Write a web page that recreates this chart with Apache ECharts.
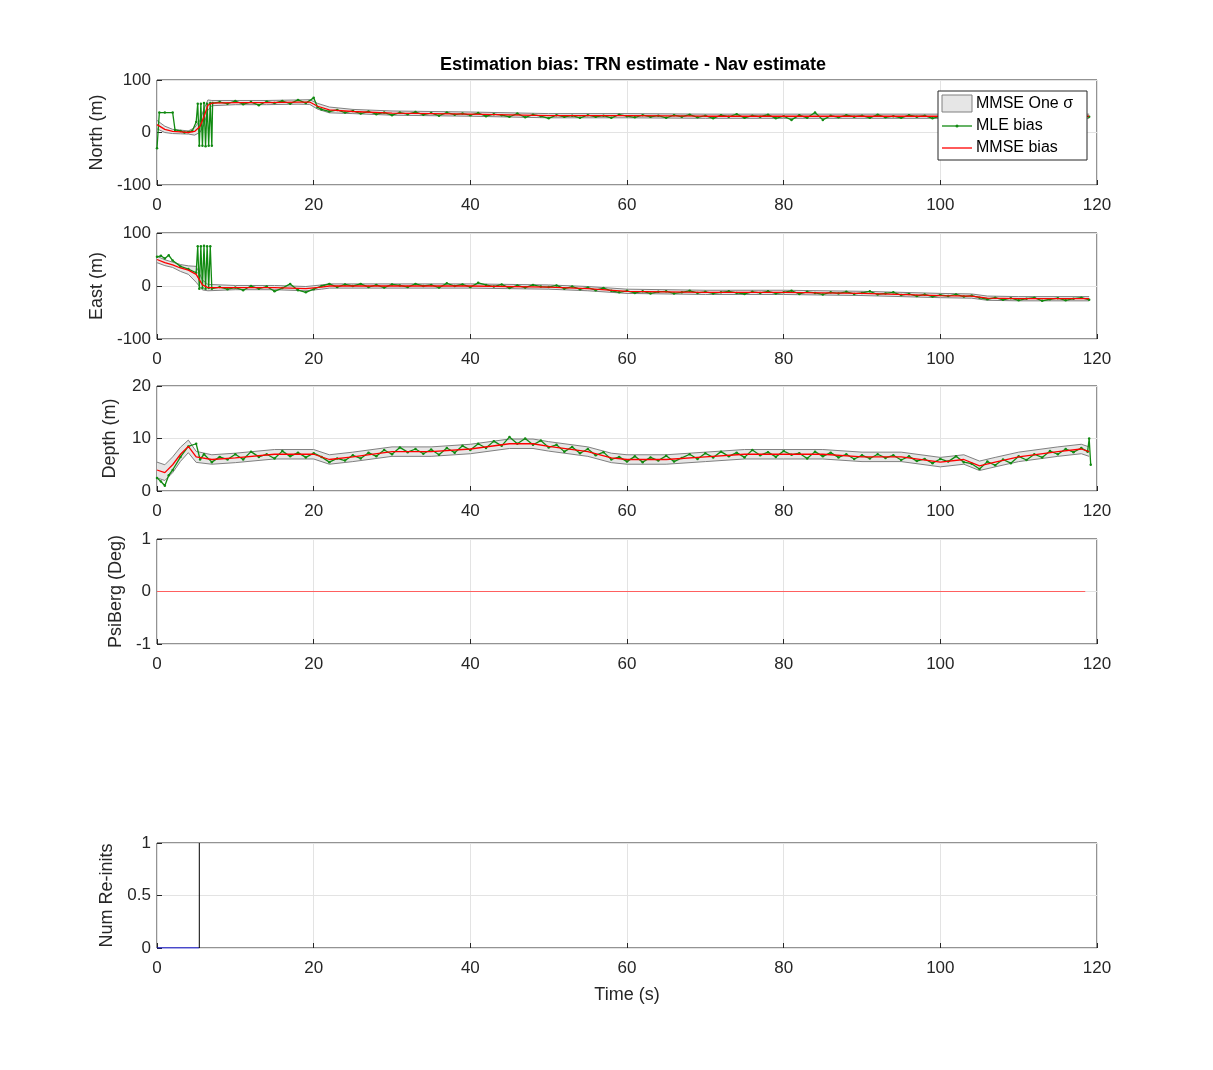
<!DOCTYPE html>
<html><head><meta charset="utf-8">
<script src="https://cdn.jsdelivr.net/npm/echarts@6/dist/echarts.min.js"></script>
<style>html,body{margin:0;background:#fff}#c{width:1213px;height:1070px}</style>
</head><body><div id="c"></div>
<script>
// ---- data ----
const xTicks = [0,20,40,60,80,100,120];
// MMSE estimates [t, value]
const northMMSE = [[0,15],[1,6],[2,2],[3,1],[4,0],[4.8,2],[5.5,12],[6,30],[6.5,52],[7,56],[10,57],[14,57],[18,58],[19.5,58],[20.5,50],[22,43],[25,40],[30,37],[40,35],[50,32],[60,32],[70,31],[80,31],[90,31],[100,31],[110,30],[119,31]];
const northSig = [[0,8],[1,6],[2,4],[4,3],[5,8],[6,15],[7,5],[10,4],[19,4],[21,6],[25,4],[119,4]];
const northMLE = [[0,-30],[0.3,38],[1,38],[2,38],[2.3,5],[3,3],[3.5,0],[4,1],[4.5,3],[5,20],[5.2,55],[5.4,-25],[5.6,55],[5.8,-25],[6,56],[6.2,-26],[6.4,55],[6.6,-25],[6.8,56],[7,-25],[7.1,56],[8,58],[9,55],[10,60],[11,54],[12,58],[13,52],[14,59],[15,56],[16,60],[17,55],[18,62],[19,56],[20,66],[20.5,48],[21,44],[22,40],[23,43],[24,38],[25,41],[26,36],[27,40],[28,35],[29,38],[30,33],[31,38],[32,35],[33,39],[34,34],[35,37],[36,32],[37,38],[38,34],[39,36],[40,33],[41,37],[42,31],[43,35],[44,33],[45,30],[46,36],[47,29],[48,34],[49,31],[50,27],[51,33],[52,30],[53,32],[54,28],[55,33],[56,30],[57,32],[58,28],[59,34],[60,31],[61,29],[62,33],[63,30],[64,32],[65,28],[66,33],[67,30],[68,34],[69,29],[70,32],[71,27],[72,33],[73,30],[74,35],[75,28],[76,32],[77,30],[78,34],[79,27],[80,31],[81,24],[82,33],[83,28],[84,38],[85,24],[86,32],[87,29],[88,33],[89,30],[90,32],[91,28],[92,34],[93,29],[94,31],[95,28],[96,33],[97,30],[98,32],[99,27],[100,31],[101,29],[102,34],[103,30],[104,32],[105,28],[106,33],[107,30],[108,31],[109,28],[110,30],[111,27],[112,31],[113,29],[114,32],[115,28],[116,30],[117,29],[118,31],[119,30]];

const eastMMSE = [[0,50],[1,44],[2,40],[3,34],[4,30],[5,22],[5.8,2],[6.5,-3],[10,-3],[15,-3],[19,-5],[21,-2],[22,0],[30,0],[40,0],[50,-2],[55,-5],[60,-10],[70,-12],[80,-12],[90,-14],[100,-18],[104,-19],[106,-23],[110,-24],[119,-24]];
const eastSig = [[0,6],[2,5],[4,8],[5,15],[6,8],[7,4],[119,4]];
const eastMLE = [[0,55],[0.5,57],[1,52],[1.5,58],[2,48],[3,37],[4,32],[5,25],[5.2,75],[5.4,-5],[5.6,75],[5.8,-4],[6,76],[6.2,-5],[6.4,75],[6.6,-4],[6.8,75],[7,-5],[8,-2],[9,-6],[10,-3],[11,-8],[12,0],[13,-5],[14,-1],[15,-10],[16,-4],[17,4],[18,-8],[19,-12],[20,-6],[21,0],[22,4],[23,-2],[24,3],[25,0],[26,4],[27,-2],[28,2],[29,-3],[30,3],[31,1],[32,-2],[33,4],[34,0],[35,2],[36,-3],[37,5],[38,0],[39,3],[40,-2],[41,6],[42,2],[43,-1],[44,3],[45,-4],[46,1],[47,-3],[48,2],[49,-1],[50,-2],[51,1],[52,-5],[53,-1],[54,-6],[55,-3],[56,-8],[57,-4],[58,-9],[59,-12],[60,-9],[61,-13],[62,-10],[63,-14],[64,-11],[65,-10],[66,-14],[67,-12],[68,-9],[69,-13],[70,-11],[71,-14],[72,-12],[73,-10],[74,-13],[75,-15],[76,-11],[77,-13],[78,-10],[79,-14],[80,-12],[81,-9],[82,-15],[83,-11],[84,-13],[85,-16],[86,-12],[87,-14],[88,-11],[89,-15],[90,-13],[91,-10],[92,-16],[93,-14],[94,-12],[95,-17],[96,-15],[97,-19],[98,-16],[99,-20],[100,-17],[101,-19],[102,-16],[103,-20],[104,-18],[105,-22],[106,-25],[107,-22],[108,-26],[109,-23],[110,-27],[111,-24],[112,-22],[113,-28],[114,-25],[115,-23],[116,-27],[117,-24],[118,-22],[119,-26]];

const depthMMSE = [[0,4],[1,3.5],[2,5],[3,7],[4,8.5],[5,6.5],[7,6],[10,6.3],[15,7],[20,7],[22,6],[25,6.5],[30,7.5],[35,7.5],[40,8],[45,9],[48,9],[50,8.5],[55,7.5],[58,6.3],[60,6],[65,6],[70,6.5],[75,7],[80,7],[85,7],[90,6.5],[95,6.5],[100,5.5],[103,6],[105,4.8],[107,5.5],[110,6.5],[115,7.5],[118,8],[119,7.5]];
const depthSig = [[0,1.5],[2,1.5],[4,1.2],[6,0.9],[119,0.9]];
const depthMLE = [[0,2.5],[0.5,1.8],[1,1],[1.5,3],[2,4],[3,6.5],[4,8.5],[5,9],[5.5,6],[6,7],[7,5.5],[8,6.5],[9,6],[10,7],[11,6],[12,7.5],[13,6.5],[14,7],[15,6.2],[16,7.6],[17,6.6],[18,7.3],[19,6.4],[20,7.2],[21,6.5],[22,5.5],[23,6.2],[24,5.8],[25,6.8],[26,6.2],[27,7.3],[28,6.6],[29,7.8],[30,7],[31,8.3],[32,7.4],[33,8],[34,7.1],[35,7.9],[36,6.9],[37,8.2],[38,7.3],[39,8.6],[40,7.8],[41,9],[42,8.2],[43,9.5],[44,8.6],[45,10.3],[46,9],[47,10],[48,8.8],[49,9.6],[50,8.3],[51,8.8],[52,7.5],[53,8.4],[54,7.2],[55,8],[56,6.8],[57,7.4],[58,6],[59,6.5],[60,5.6],[61,6.6],[62,5.5],[63,6.4],[64,5.8],[65,6.7],[66,5.6],[67,6.3],[68,7],[69,6.1],[70,7.2],[71,6.4],[72,7.5],[73,6.6],[74,7.3],[75,6.4],[76,7.8],[77,6.8],[78,7.4],[79,6.5],[80,7.6],[81,6.9],[82,7.2],[83,6.2],[84,7.5],[85,6.6],[86,7.3],[87,6.4],[88,7],[89,6.1],[90,6.8],[91,6.2],[92,7],[93,6.3],[94,6.8],[95,5.9],[96,6.6],[97,5.7],[98,6.1],[99,5.3],[100,6.1],[101,5.6],[102,6.6],[103,5.5],[104,5.2],[105,4.2],[106,5.6],[107,4.9],[108,6],[109,5.3],[110,6.6],[111,5.9],[112,7],[113,6.4],[114,7.6],[115,7],[116,8],[117,7.4],[118,8.2],[118.8,7.5],[119,10],[119.2,5]];

const psiLine = [[0,0],[118.5,0]];
const reinitBlue = [[0,0],[5.4,0]];
const reinitBlack = [[5.4,0],[5.4,1]];

// ---- build ----
const panels = [
 {top:80, h:105, min:-100, max:100, interval:100, name:'North (m)', mmse:northMMSE, sig:northSig, mle:northMLE},
 {top:233, h:106, min:-100, max:100, interval:100, name:'East (m)', mmse:eastMMSE, sig:eastSig, mle:eastMLE},
 {top:386, h:105, min:0, max:20, interval:10, name:'Depth (m)', mmse:depthMMSE, sig:depthSig, mle:depthMLE},
 {top:539, h:105, min:-1, max:1, interval:1, name:'PsiBerg (Deg)'},
 {top:843, h:105, min:0, max:1, interval:0.5, name:'Num Re-inits'}
];
function sigAt(sig,t){for(let i=1;i<sig.length;i++){if(t<=sig[i][0]){const a=sig[i-1],b=sig[i];return a[1]+(b[1]-a[1])*(t-a[0])/(b[0]-a[0]);}}return sig[sig.length-1][1];}
const F='Liberation Sans, Arial, sans-serif';
const grid=[],xAxis=[],yAxis=[],series=[];
panels.forEach((p,i)=>{
 grid.push({left:157,width:940,top:p.top,height:p.h,show:true,borderColor:'#262626',borderWidth:1,backgroundColor:'#fff'});
 xAxis.push({gridIndex:i,type:'value',min:0,max:120,interval:20,
  axisLine:{show:false,onZero:false},axisTick:{inside:true,length:5,lineStyle:{color:'#262626'}},
  axisLabel:{fontSize:17,color:'#262626',fontFamily:F,margin:12},
  splitLine:{show:true,lineStyle:{color:'#e3e3e3'}},
  name:i===4?'Time (s)':'',nameLocation:'middle',nameGap:38,nameTextStyle:{fontSize:18,color:'#262626',fontFamily:F}});
 yAxis.push({gridIndex:i,type:'value',min:p.min,max:p.max,interval:p.interval,
  axisLine:{show:false,onZero:false},axisTick:{inside:true,length:5,lineStyle:{color:'#262626'}},
  axisLabel:{fontSize:17,color:'#262626',fontFamily:F,margin:6},
  splitLine:{show:true,lineStyle:{color:'#e3e3e3'}},
  name:p.name,nameLocation:'middle',nameGap:i===4||i===3?32:38,nameTextStyle:{fontSize:18,color:'#262626',fontFamily:F}});
 if(p.mmse){
  const lo=p.mmse.map(d=>[d[0],d[1]-sigAt(p.sig,d[0])]);
  const hi=p.mmse.map(d=>[d[0],d[1]+sigAt(p.sig,d[0])]);
  series.push({type:'custom',xAxisIndex:i,yAxisIndex:i,data:[[0,0]],z:1,silent:true,
   renderItem:(params,api)=>{
     const pts=hi.map(d=>api.coord(d)).concat(lo.slice().reverse().map(d=>api.coord(d)));
     return {type:'polygon',shape:{points:pts},style:{fill:'#e6e6e6',stroke:null}};
   }});
  series.push({type:'line',xAxisIndex:i,yAxisIndex:i,data:lo,symbol:'none',lineStyle:{color:'#808080',width:1},z:2});
  series.push({type:'line',xAxisIndex:i,yAxisIndex:i,data:hi,symbol:'none',lineStyle:{color:'#808080',width:1},z:2});
  series.push({type:'line',xAxisIndex:i,yAxisIndex:i,data:p.mle,symbol:'circle',symbolSize:2.5,itemStyle:{color:'#118a11'},lineStyle:{color:'#118a11',width:1.3},z:3});
  series.push({type:'line',xAxisIndex:i,yAxisIndex:i,data:p.mmse,symbol:'none',lineStyle:{color:'#ff0000',width:1.3},z:4});
 }
});
series.push({type:'line',xAxisIndex:3,yAxisIndex:3,data:psiLine,symbol:'none',lineStyle:{color:'#ff6060',width:1.2},z:5});
series.push({type:'line',xAxisIndex:4,yAxisIndex:4,data:reinitBlue,symbol:'none',lineStyle:{color:'#0000ff',width:1.2},z:5});
series.push({type:'line',xAxisIndex:4,yAxisIndex:4,data:reinitBlack,symbol:'none',lineStyle:{color:'#000',width:1},z:5});

const chart=echarts.init(document.getElementById('c'));
chart.setOption({
 animation:false,
 title:{text:'Estimation bias: TRN estimate - Nav estimate',left:628,top:51,textAlign:'center',textStyle:{fontSize:18,fontWeight:'bold',color:'#000',fontFamily:F}},
 grid,xAxis,yAxis,series,
 graphic:[
  {type:'rect',shape:{x:938,y:91,width:149,height:69},style:{fill:'#fff',stroke:'#262626',lineWidth:1},z:100},
  {type:'rect',shape:{x:942,y:95,width:30,height:17},style:{fill:'#e6e6e6',stroke:'#808080',lineWidth:1},z:101},
  {type:'text',x:976,y:104,style:{text:'MMSE One σ',fontSize:16,fill:'#000',fontFamily:F,verticalAlign:'middle'},z:101},
  {type:'line',shape:{x1:942,y1:126,x2:972,y2:126},style:{stroke:'#118a11',lineWidth:1.3},z:101},
  {type:'circle',shape:{cx:957,cy:126,r:1.5},style:{fill:'#118a11'},z:101},
  {type:'text',x:976,y:126,style:{text:'MLE bias',fontSize:16,fill:'#000',fontFamily:F,verticalAlign:'middle'},z:101},
  {type:'line',shape:{x1:942,y1:148,x2:972,y2:148},style:{stroke:'#ff0000',lineWidth:1.3},z:101},
  {type:'text',x:976,y:148,style:{text:'MMSE bias',fontSize:16,fill:'#000',fontFamily:F,verticalAlign:'middle'},z:101}
 ]
});
</script></body></html>
